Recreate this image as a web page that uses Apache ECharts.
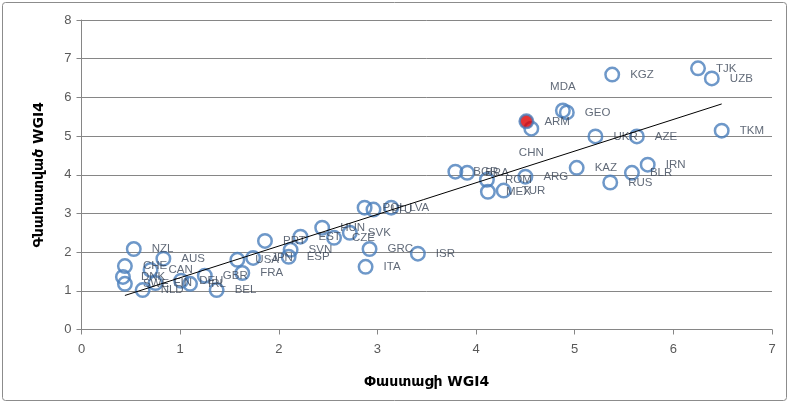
<!DOCTYPE html>
<html>
<head>
<meta charset="utf-8">
<script src="https://cdn.jsdelivr.net/npm/echarts@6/dist/echarts.min.js"></script>
<style>
html,body{margin:0;padding:0;background:#fff;}
#c{width:791px;height:406px;}
</style>
</head>
<body>
<div id="c"></div>
<script>
// Country codes, actual WGI4 (x) and estimated WGI4 (y)
const countries = ["NZL","CHE","AUS","CAN","DNK","SWE","NLD","FIN","DEU","IRL","GBR","BEL","USA","FRA","JPN","PRT","SVN","ESP","EST","HUN","CZE","SVK","POL","LTU","LVA","GRC","ISR","ITA","BGR","BRA","ROM","ARG","MEX","TUR","CHN","MDA","GEO","UKR","AZE","KGZ","TJK","UZB","TKM","KAZ","RUS","BLR","IRN"];
const actual = [0.53,0.44,0.83,0.70,0.42,0.44,0.62,0.75,1.01,1.10,1.25,1.37,1.58,1.63,1.74,1.86,2.12,2.10,2.22,2.44,2.56,2.72,2.87,2.96,3.14,2.92,3.41,2.88,3.79,3.91,4.11,4.50,4.12,4.28,4.56,4.88,4.92,5.21,5.63,5.38,6.25,6.39,6.49,5.02,5.36,5.58,5.74];
const estimated = [2.08,1.64,1.83,1.54,1.36,1.18,1.02,1.20,1.26,1.18,1.39,1.02,1.80,1.46,1.85,2.29,2.06,1.88,2.40,2.63,2.37,2.50,3.15,3.10,3.15,2.08,1.96,1.62,4.08,4.05,3.87,3.95,3.56,3.59,5.19,5.66,5.61,4.99,4.99,6.59,6.75,6.49,5.14,4.18,3.80,4.05,4.26];
// Armenia (highlighted)
const armName = "ARM";
const armActual = 4.51;
const armEstimated = 5.38;
// Linear trend line endpoints
const trendX = [0.44, 6.49];
const trendY = [0.88, 5.83];
// Axis ticks
const xTicks = [0,1,2,3,4,5,6,7];
const yTicks = [0,1,2,3,4,5,6,7,8];
const xTitle = "Փաստացի WGI4";
const yTitle = "Գնահատված WGI4";

const labelPos = {CHN:{position:'bottom',offset:[10,-3]}, MDA:{position:'top',offset:[2,1]}};
const blue = '#4a7ebb';
const pts = countries.map((c,i)=>{
  const d = {name:c, value:[actual[i], estimated[i]]};
  if(labelPos[c]) d.label = labelPos[c];
  return d;
});
const chart = echarts.init(document.getElementById('c'), null, {renderer:'canvas'});
const fontLbl = 'Liberation Sans, DejaVu Sans, sans-serif';
chart.setOption({
  animation:false,
  backgroundColor:'#fff',
  graphic:[{type:'rect', shape:{x:2.5,y:2.5,width:784,height:398,r:3}, style:{fill:'none',stroke:'#8c8c8c',lineWidth:1}, z:-1}],
  grid:{left:81.5, right:19, top:20, bottom:76.5},
  xAxis:{type:'value', min:xTicks[0], max:xTicks[xTicks.length-1], interval:1,
    name:xTitle, nameLocation:'middle', nameGap:46,
    nameTextStyle:{fontSize:14, fontWeight:'bold', color:'#000', fontFamily:'DejaVu Sans, Liberation Sans, sans-serif'},
    axisLine:{show:true, onZero:false, lineStyle:{color:'#868686', width:1}},
    axisTick:{show:true, inside:false, length:5, lineStyle:{color:'#868686'}},
    axisLabel:{color:'#595959', fontSize:13, margin:13, fontFamily:fontLbl},
    splitLine:{show:false}},
  yAxis:{type:'value', min:yTicks[0], max:yTicks[yTicks.length-1], interval:1,
    name:yTitle, nameLocation:'middle', nameGap:35, nameRotate:90,
    nameTextStyle:{fontSize:14, fontWeight:'bold', color:'#000', fontFamily:'DejaVu Sans, Liberation Sans, sans-serif'},
    axisLine:{show:true, onZero:false, lineStyle:{color:'#868686', width:1}},
    axisTick:{show:true, inside:false, length:5, lineStyle:{color:'#868686'}},
    axisLabel:{color:'#595959', fontSize:13, margin:10, fontFamily:fontLbl},
    splitLine:{show:true, lineStyle:{color:'#868686', width:1}}},
  series:[
    {type:'scatter', data:pts, symbol:'circle', symbolSize:13.5,
      itemStyle:{color:'rgba(0,0,0,0)', borderColor:blue, borderWidth:2.5},
      label:{show:true, position:'right', distance:10, formatter:'{b}', color:'#3a4556', fontSize:11.5, fontFamily:fontLbl},
      labelLayout:{hideOverlap:false}, emphasis:{disabled:true}, z:3},
    {type:'scatter', data:[{name:armName, value:[armActual, armEstimated]}], symbol:'circle', symbolSize:13.5,
      itemStyle:{color:'#e00000', borderColor:blue, borderWidth:2.5},
      label:{show:true, position:'right', distance:10, formatter:'{b}', color:'#3a4556', fontSize:11.5, fontFamily:fontLbl},
      emphasis:{disabled:true}, z:4},
    {type:'line', data:trendX.map((x,i)=>[x,trendY[i]]), symbol:'none',
      lineStyle:{color:'#000', width:1}, silent:true, z:5}
  ]
});
</script>
</body>
</html>
